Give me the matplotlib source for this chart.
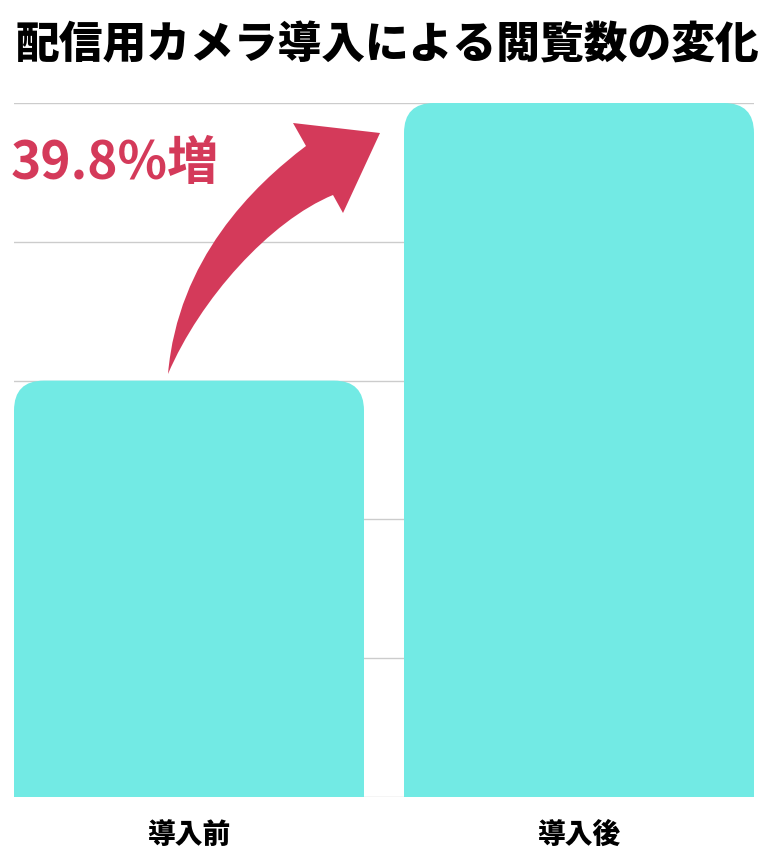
import matplotlib
matplotlib.use("Agg")
import matplotlib.pyplot as plt
from matplotlib.patches import FancyBboxPatch, Rectangle, PathPatch
from matplotlib.path import Path

plt.rcParams['font.family'] = ['Noto Sans CJK JP', 'DejaVu Sans']

title = "配信用カメラ導入による閲覧数の変化"
categories = ["導入前", "導入後"]
values = [3.0, 5.0]
grid_ticks = [0, 1, 2, 3, 4, 5]
growth_label = "39.8%増"

BAR = "#72EAE4"
RED = "#D43A5A"
W, H = 774, 862

fig = plt.figure(figsize=(W / 100, H / 100), dpi=100)
ax = fig.add_axes([14 / W, 1 - 798 / H, 740 / W, (798 - 104) / H])

bw = 350 / 390
xs = list(range(len(categories)))
ax.set_xlim(-bw / 2, xs[-1] + bw / 2)
ax.set_ylim(0, 5)
ax.set_yticks(grid_ticks)
ax.yaxis.grid(True, color="#CCCCCC", linewidth=1)
ax.set_axisbelow(True)
for s in ax.spines.values():
    s.set_visible(False)
ax.tick_params(axis="y", length=0, labelleft=False)
ax.tick_params(axis="x", length=0, pad=16)
ax.set_xticks(xs)
ax.set_xticklabels(categories, fontsize=20, fontweight="black", color="#000000")

bars = ax.bar(xs, values, width=bw, color=BAR)
rx = 30 / 390
ry = 30 / 139
for b in bars:
    x0, y0 = b.get_x(), b.get_y()
    w, h = b.get_width(), b.get_height()
    b.set_visible(False)
    ax.add_patch(FancyBboxPatch((x0, y0), w, h,
                                boxstyle=f"round,pad=0,rounding_size={rx}",
                                mutation_aspect=ry / rx,
                                facecolor=BAR, edgecolor="none", zorder=2))
    ax.add_patch(Rectangle((x0, y0), w, h - ry * 1.2, facecolor=BAR,
                           edgecolor="none", zorder=2))

fig.text(0.5, 1 - 45 / H, title, ha="center", va="center",
         fontsize=31.5, fontweight="black", color="#000000")
fig.text(11 / W, 1 - 164 / H, growth_label, ha="left", va="center",
         fontsize=37, fontweight="bold", color=RED)


def P(x, y):
    return (x / W, 1 - y / H)


verts = [P(168, 375), P(178, 260), P(253, 187), P(306, 147),
         P(293, 124), P(380, 134), P(343, 214), P(333, 196),
         P(270, 222), P(200, 300), P(168, 375), P(168, 375)]
codes = [Path.MOVETO, Path.CURVE4, Path.CURVE4, Path.CURVE4,
         Path.LINETO, Path.LINETO, Path.LINETO, Path.LINETO,
         Path.CURVE4, Path.CURVE4, Path.CURVE4, Path.CLOSEPOLY]
fig.patches.append(PathPatch(Path(verts, codes), transform=fig.transFigure,
                             facecolor=RED, edgecolor="none", zorder=5))

fig.savefig("out.png", dpi=100, facecolor="white")
